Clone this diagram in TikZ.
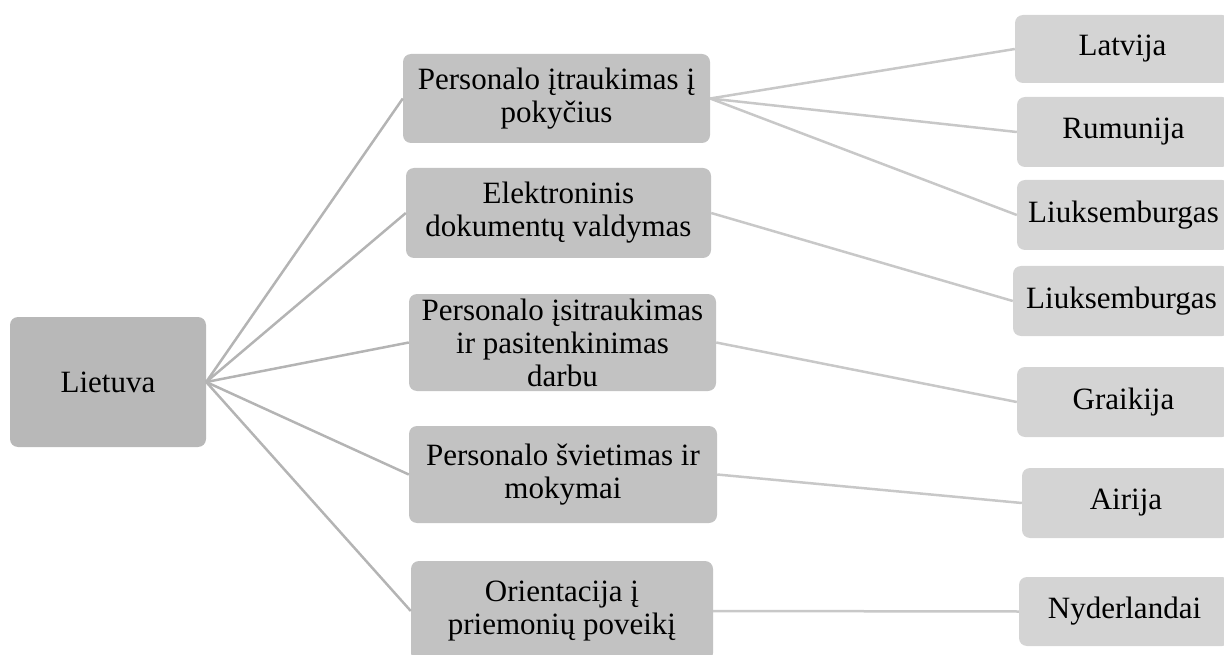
\documentclass[tikz,border=0pt]{standalone}
\usepackage{fontspec}
\setmainfont{Liberation Serif}
\definecolor{rootfill}{HTML}{B8B8B8}
\definecolor{midfill}{HTML}{C2C2C2}
\definecolor{leaffill}{HTML}{D4D4D4}
\definecolor{linkL}{HTML}{B4B4B4}
\definecolor{linkR}{HTML}{C8C8C8}
\begin{document}
\begin{tikzpicture}[x=1pt,y=-1pt,
  basebox/.style={rounded corners=8pt, inner sep=0pt, align=center, text=black,
    font=\fontsize{31}{33}\selectfont},
  rootbox/.style={basebox, fill=rootfill},
  midbox/.style={basebox, fill=midfill},
  leafbox/.style={basebox, fill=leaffill},
  linkleft/.style={draw=linkL, line width=2.5pt},
  linkright/.style={draw=linkR, line width=2.5pt}]
\useasboundingbox (0,0) rectangle (1224,655);
\clip (0,0) rectangle (1224,655);

\node[rootbox, minimum width=196pt, minimum height=130pt] (lt) at (108,382) {Lietuva};

\node[midbox, minimum width=307pt, minimum height=89pt] (m1) at (556.5,98.5) {Personalo įtraukimas į\\pokyčius};
\node[midbox, minimum width=305pt, minimum height=90pt] (m2) at (558.5,213) {Elektroninis\\dokumentų valdymas};
\node[midbox, minimum width=307pt, minimum height=97pt] (m3) at (562.5,342.5) {Personalo įsitraukimas\\ir pasitenkinimas\\darbu};
\node[midbox, minimum width=308pt, minimum height=97pt] (m4) at (563,474.5) {Personalo švietimas ir\\mokymai};
\node[midbox, minimum width=302pt, minimum height=100pt] (m5) at (562,611) {Orientacija į\\priemonių poveikį};

\node[leafbox, minimum width=215pt, minimum height=68pt] (r1) at (1122.5,49) {Latvija};
\node[leafbox, minimum width=213pt, minimum height=70pt] (r2) at (1123.5,132) {Rumunija};
\node[leafbox, minimum width=213pt, minimum height=70pt] (r3) at (1123.5,215) {Liuksemburgas};
\node[leafbox, minimum width=217pt, minimum height=70pt] (r4) at (1121.5,301) {Liuksemburgas};
\node[leafbox, minimum width=213pt, minimum height=70pt] (r5) at (1123.5,402) {Graikija};
\node[leafbox, minimum width=208pt, minimum height=70pt] (r6) at (1126,503) {Airija};
\node[leafbox, minimum width=211pt, minimum height=69pt] (r7) at (1124.5,611.5) {Nyderlandai};

\foreach \m in {m1,m2,m3,m4,m5}
  \draw[linkleft] (lt.east) -- (\m.west);

\draw[linkright] (m1.east) -- (r1.west);
\draw[linkright] (m1.east) -- (r2.west);
\draw[linkright] (m1.east) -- (r3.west);
\draw[linkright] (m2.east) -- (r4.west);
\draw[linkright] (m3.east) -- (r5.west);
\draw[linkright] (m4.east) -- (r6.west);
\draw[linkright] (m5.east) -- (r7.west);
\end{tikzpicture}
\end{document}
